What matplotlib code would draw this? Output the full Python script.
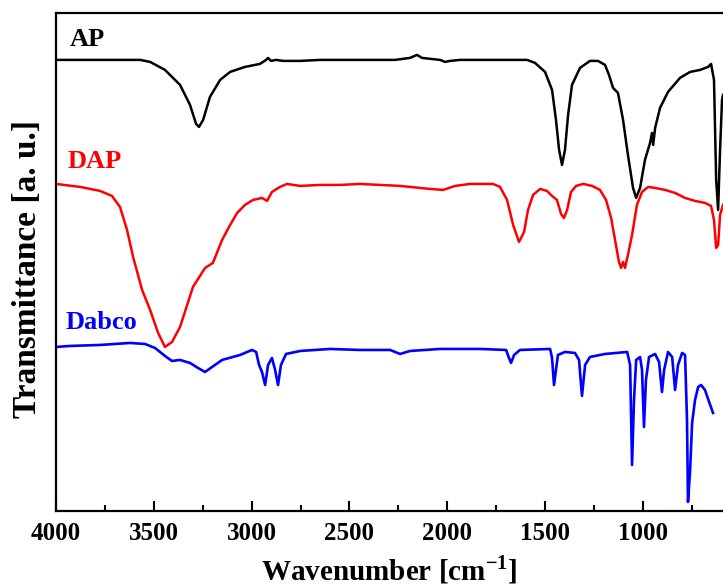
import matplotlib
matplotlib.use("Agg")
import matplotlib.pyplot as plt
from matplotlib.ticker import MultipleLocator

plt.rcParams['font.family'] = ['Liberation Serif', 'DejaVu Serif']
plt.rcParams['font.weight'] = 'bold'
plt.rcParams['mathtext.fontset'] = 'custom'
plt.rcParams['mathtext.rm'] = 'Liberation Serif:bold'
plt.rcParams['mathtext.bf'] = 'Liberation Serif:bold'

# spectra (wavenumber, transmittance in arbitrary units)
ap_wn = [4000, 3775, 3570, 3519, 3443, 3366, 3315, 3284, 3269, 3248, 3213, 3161, 3110, 3034,
         2957, 2926, 2916, 2901, 2875, 2839, 2752, 2650, 2446, 2267, 2190, 2154, 2129, 2037,
         2011, 1985, 1934, 1730, 1592, 1551, 1500, 1464, 1444, 1428, 1413, 1398, 1382, 1362,
         1321, 1270, 1229, 1193, 1173, 1152, 1127, 1101, 1076, 1050, 1034, 1014, 989, 963,
         953, 947, 937, 912, 871, 810, 758, 707, 666, 651, 636, 625, 615, 605, 595, 590]
ap_t = [451, 451, 451, 449, 441, 426, 406, 387, 384, 391, 414, 431, 439, 444,
        447, 451, 453, 450, 451, 450, 450, 451, 451, 451, 453, 456, 453, 451,
        449, 450, 451, 451, 451, 448, 439, 421, 391, 361, 346, 361, 396, 426,
        443, 450, 450, 446, 436, 423, 418, 391, 356, 323, 313, 323, 351, 368,
        378, 366, 383, 403, 419, 433, 439, 441, 444, 447, 431, 331, 301, 361, 411, 416]

dap_wn = [4000, 3877, 3775, 3714, 3673, 3637, 3606, 3560, 3519, 3478, 3443, 3407, 3366, 3300,
          3238, 3198, 3151, 3110, 3074, 3034, 2993, 2947, 2921, 2896, 2855, 2819, 2752, 2650,
          2548, 2446, 2241, 2088, 2021, 1960, 1883, 1766, 1730, 1694, 1663, 1633, 1607, 1587,
          1561, 1525, 1490, 1464, 1439, 1418, 1403, 1387, 1367, 1341, 1305, 1259, 1219, 1188,
          1162, 1142, 1122, 1111, 1101, 1091, 1076, 1055, 1030, 1004, 973, 937, 886, 835,
          784, 733, 682, 651, 636, 625, 615, 605, 590]
dap_t = [327, 324, 320, 315, 304, 281, 254, 221, 201, 178, 164, 169, 184, 224,
         243, 248, 271, 286, 298, 306, 311, 313, 310, 319, 324, 327, 325, 326,
         326, 327, 325, 322, 321, 325, 327, 327, 324, 311, 286, 269, 279, 301,
         316, 322, 320, 315, 311, 297, 293, 301, 319, 325, 327, 325, 321, 311,
         293, 271, 249, 243, 249, 243, 256, 276, 306, 319, 324, 323, 321, 318,
         313, 310, 308, 305, 291, 263, 266, 296, 306]

dabco_wn = [4000, 3928, 3775, 3622, 3545, 3494, 3443, 3407, 3366, 3315, 3274, 3238, 3202, 3151,
            3059, 2998, 2977, 2962, 2947, 2931, 2916, 2896, 2880, 2865, 2850, 2824, 2752, 2599,
            2446, 2292, 2241, 2190, 2037, 1832, 1699, 1684, 1674, 1658, 1628, 1474, 1464, 1454,
            1444, 1434, 1398, 1347, 1326, 1311, 1295, 1270, 1193, 1080, 1065, 1055, 1045, 1034,
            1014, 1004, 994, 984, 968, 937, 917, 902, 891, 871, 850, 835, 820, 799,
            784, 774, 769, 758, 748, 733, 717, 702, 682, 661, 641]
dabco_t = [164, 165, 166, 168, 167, 163, 155, 150, 151, 148, 143, 139, 144, 151,
           156, 161, 159, 146, 139, 126, 146, 153, 141, 126, 146, 157, 160, 162,
           161, 161, 157, 160, 162, 162, 161, 153, 148, 156, 161, 162, 153, 126,
           141, 156, 159, 158, 151, 115, 146, 154, 157, 159, 146, 46, 111, 151,
           154, 141, 84, 131, 154, 157, 149, 119, 141, 159, 154, 121, 146, 158,
           156, 91, 9, 41, 88, 111, 124, 126, 121, 109, 98]

labels = ["AP", "DAP", "Dabco"]
colors = ["black", "red", "blue"]

fig = plt.figure(figsize=(7.23, 5.86), dpi=100)
ax = fig.add_axes([0.0775, 0.128, 0.9225, 0.85])

ax.plot(ap_wn, ap_t, color=colors[0], lw=1.8)
ax.plot(dap_wn, dap_t, color=colors[1], lw=1.8)
ax.plot(dabco_wn, dabco_t, color=colors[2], lw=1.9)

ax.text(3928, 471, labels[0], color=colors[0], fontsize=19, fontweight='bold', va='center')
ax.text(3940, 349, labels[1], color=colors[1], fontsize=19, fontweight='bold', va='center')
ax.text(3950, 188, labels[2], color=colors[2], fontsize=19, fontweight='bold', va='center')

ax.set_xlim(4000, 590)
ax.set_ylim(0, 498)
ax.xaxis.set_major_locator(MultipleLocator(500))
ax.xaxis.set_minor_locator(MultipleLocator(250))
ax.tick_params(axis='x', which='major', direction='in', length=7, width=1.5, labelsize=18, pad=8)
ax.tick_params(axis='x', which='minor', direction='in', length=4, width=1.5)
ax.set_yticks([])
for s in ['left', 'bottom', 'top']:
    ax.spines[s].set_linewidth(1.6)
ax.spines['right'].set_visible(False)

ax.set_xlabel("Wavenumber [cm$^{-1}$]", fontsize=21, fontweight='bold', labelpad=6)
ax.set_ylabel("Transmittance [a. u.]", fontsize=24, fontweight='bold')
ax.yaxis.set_label_coords(-0.02, 0.485)

fig.savefig("out.png", dpi=100)
